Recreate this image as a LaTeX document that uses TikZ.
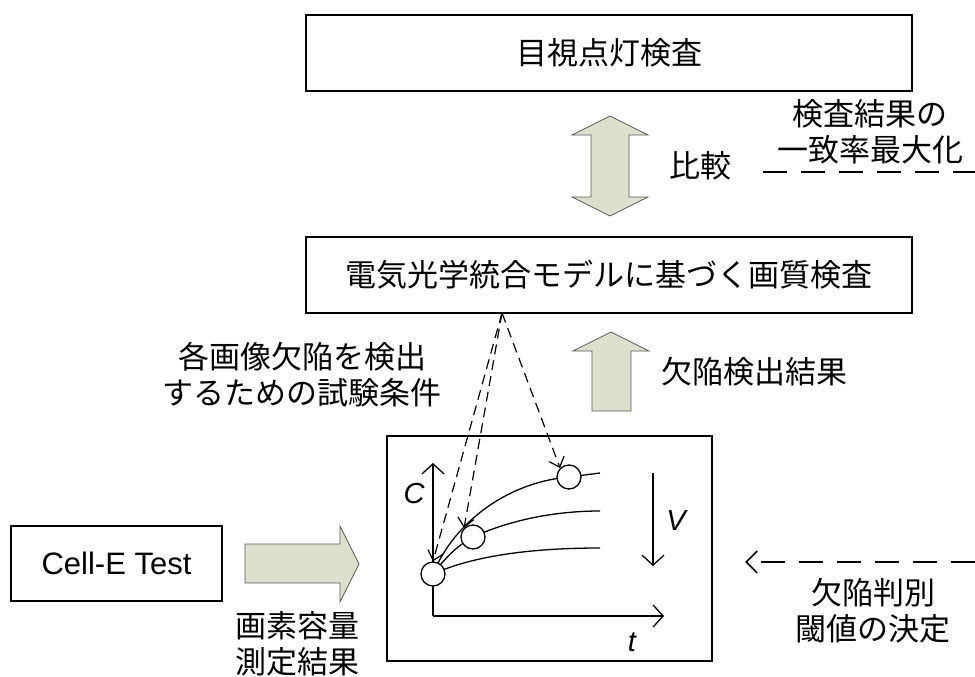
\documentclass[tikz,border=0pt]{standalone}
\usepackage{fontspec}
\setmainfont{Noto Sans CJK JP}
\newfontfamily\latinf{Liberation Sans}
\usetikzlibrary{arrows.meta}
\definecolor{blockfill}{RGB}{221,224,204}
\definecolor{blockline}{RGB}{90,90,90}
\tikzset{
  box/.style={draw, line width=1.3pt, minimum width=606pt, minimum height=76pt, font=\fontsize{31}{37}\selectfont},
  lbl/.style={font=\fontsize{31}{36}\selectfont, align=center, inner sep=0pt},
  blk/.style={fill=blockfill, draw=blockline, line width=0.8pt},
  dasharr/.style={dash pattern=on 10pt off 6pt, line width=1.2pt, -{Straight Barb[length=9pt,width=16pt]}},
  longdash/.style={line width=1.6pt, dash pattern=on 24pt off 14pt},
  axis/.style={line width=1.3pt, -{Straight Barb[length=10pt,width=22pt]}},
  dot/.style={circle, draw, fill=white, line width=1.3pt, minimum size=24pt, inner sep=0pt},
  crv/.style={line width=1.3pt},
  varlbl/.style={font=\latinf\itshape\fontsize{29}{30}\selectfont, inner sep=0pt}
}
\begin{document}
\begin{tikzpicture}[x=1pt,y=-1pt]
\useasboundingbox (0,0) rectangle (975,677);
% main boxes
\node[box] (top) at (609,53) {目視点灯検査};
\node[box] (mid) at (609,275) {電気光学統合モデルに基づく画質検査};
% double arrow
\draw[blk] (610,116) -- (648,135) -- (629,135) -- (629,197) -- (648,197) -- (610,216)
  -- (572,197) -- (591,197) -- (591,135) -- (572,135) -- cycle;
\node[lbl] (cmp) at (700,166) {比較};
\node[lbl] (match) at (870,132) {検査結果の\\一致率最大化};
\coordinate (ulA) at (763,172);
\coordinate (ulB) at (975,172);
\draw[longdash] (ulA) -- (ulB);
% up arrow
\draw[blk] (611,332) -- (649,351) -- (631,351) -- (631,411) -- (592,411) -- (592,351) -- (573,351) -- cycle;
\node[lbl] (det) at (754,372) {欠陥検出結果};
\node[lbl] (cond) at (302,375) {各画像欠陥を検出\\するための試験条件};
% graph box
\node[draw, line width=1.3pt, minimum width=325pt, minimum height=225pt, inner sep=0pt] (graph) at (549.5,548.5) {};
\coordinate (org) at (433,616);
\coordinate (ytop) at (433,463);
\coordinate (xend) at (664,616);
\draw[axis] (org) -- (ytop);
\draw[axis] (org) -- (xend);
\node[varlbl] (Clab) at (414,494) {C};
\node[varlbl] (tlab) at (632,642) {t};
\coordinate (vs) at (653,473);
\coordinate (ve) at (653,566);
\draw[axis] (vs) -- (ve);
\node[varlbl] (Vlab) at (676,521) {V};
% curves
\draw[crv] (433,574) .. controls (455,520) and (510,482) .. (569,477) -- (600,473);
\draw[crv] (433,574) .. controls (445,558) and (458,545) .. (473,537) .. controls (510,520) and (555,511) .. (600,511);
\draw[crv] (433,574) .. controls (475,555) and (535,548) .. (600,548);
\node[dot] (c0) at (433,574) {};
\node[dot] (c1) at (473,537) {};
\node[dot] (c2) at (569,477) {};
% dashed arrows from middle box
\coordinate (src) at (502,313);
\draw[dasharr] (src) -- (c0.north);
\draw[dasharr] (src) -- (c1.north west);
\draw[dasharr] (src) -- (c2.north west);
% Cell-E test
\node[draw, line width=1.3pt, minimum width=211pt, minimum height=75pt, font=\latinf\fontsize{31}{36}\selectfont] (cell) at (116.5,563.5) {Cell-E Test};
\draw[blk] (245,544) -- (340,544) -- (340,526) -- (359,564) -- (340,602) -- (340,583) -- (245,583) -- cycle;
\node[lbl] (cap) at (297,644) {画素容量\\測定結果};
% right dashed arrow
\coordinate (rstart) at (975,562);
\coordinate (rend) at (745,562);
\draw[longdash, -{Straight Barb[length=11pt,width=22pt]}] (rstart) -- (rend);
\node[lbl] (thr) at (873,611) {欠陥判別\\閾値の決定};
\end{tikzpicture}
\end{document}
